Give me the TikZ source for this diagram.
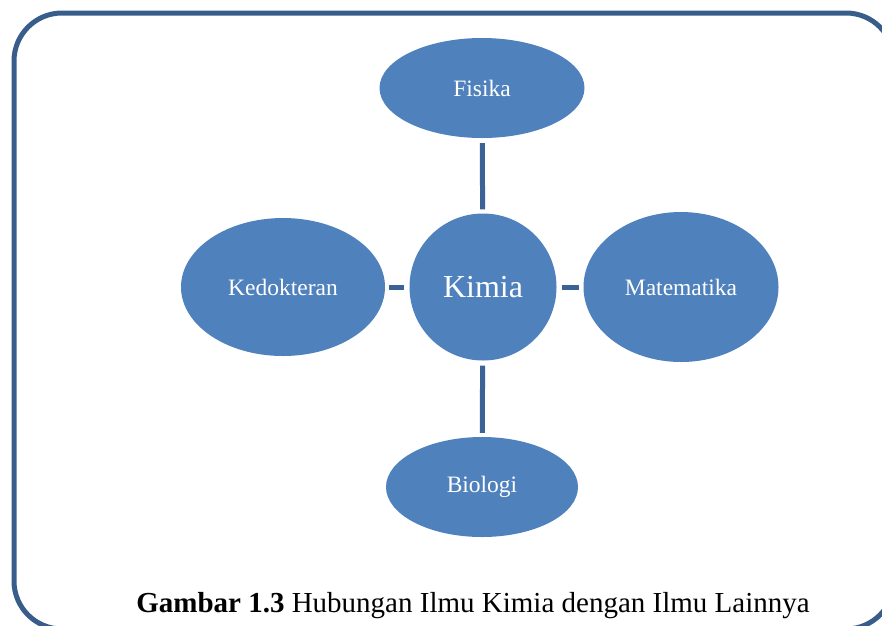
\documentclass[tikz,border=0pt]{standalone}
\usepackage{fontspec}
\setmainfont{Liberation Serif}
\usetikzlibrary{shapes.geometric}
\definecolor{nodeblue}{HTML}{4F81BD}
\definecolor{linkblue}{HTML}{3B6396}
\definecolor{framblue}{HTML}{385D8A}
\begin{document}
\begin{tikzpicture}[x=1pt,y=-1pt,
  bubble/.style={ellipse, fill=nodeblue, draw=none, text=white, inner sep=0pt,
    font=\fontsize{23.5}{27}\selectfont},
  hub/.style={circle, fill=nodeblue, draw=none, text=white, inner sep=0pt,
    minimum size=147pt, font=\fontsize{32}{36}\selectfont},
  link/.style={draw=linkblue, line width=5pt, shorten <=5pt, shorten >=4pt}]
\useasboundingbox (0,0) rectangle (882,625);
\draw[framblue, line width=5pt, rounded corners=48pt] (14,13) rectangle (894,629);
\node[hub] (kimia) at (483,287) {Kimia};
\node[bubble, minimum width=205pt, minimum height=100pt] (fisika) at (482,88) {Fisika};
\node[bubble, minimum width=195pt, minimum height=150pt] (mat) at (681,287) {Matematika};
\node[bubble, minimum width=204pt, minimum height=138pt] (ked) at (283,287) {Kedokteran};
\node[bubble, minimum width=192pt, minimum height=100pt] (bio) at (482,487) {Biologi};
\draw[link] (fisika) -- (kimia);
\draw[link] (kimia) -- (mat);
\draw[link] (kimia) -- (ked);
\draw[link] (kimia) -- (bio);
\node[anchor=base, font=\fontsize{29}{33}\selectfont] (cap) at (473,612)
  {\textbf{Gambar 1.3} Hubungan Ilmu Kimia dengan Ilmu Lainnya};
\end{tikzpicture}
\end{document}
